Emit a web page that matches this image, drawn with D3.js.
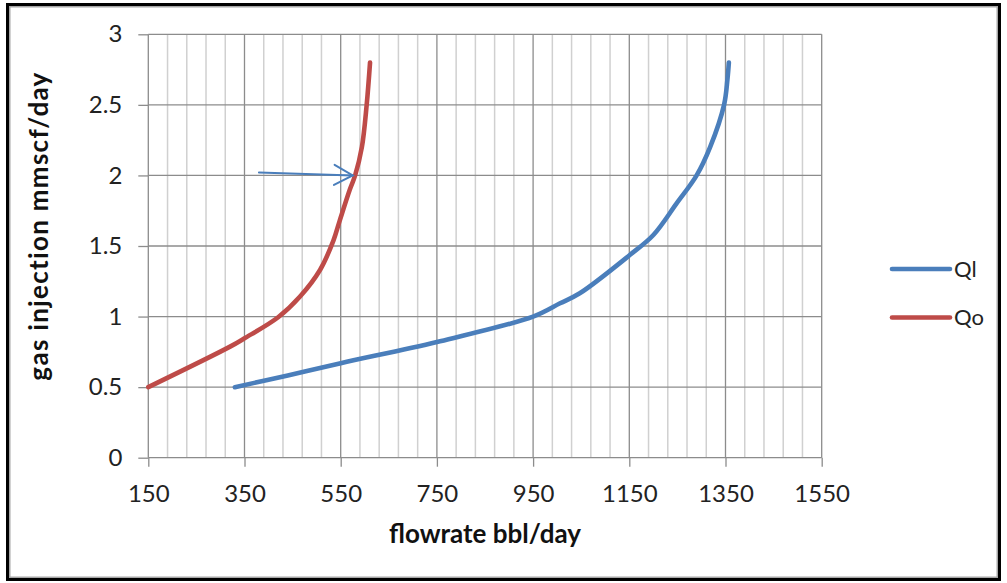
<!DOCTYPE html>
<html>
<head>
<meta charset="utf-8">
<script src="https://cdn.jsdelivr.net/npm/d3@7"></script>
<style>
  html, body { margin: 0; padding: 0; background: #fff; }
  svg { display: block; font-family: Lato, "Open Sans", sans-serif; }
</style>
</head>
<body>
<svg id="chart" width="1007" height="583"></svg>
<script>
// Gas-lift performance: gas injection rate vs. liquid / oil flowrate
const xTicks = [150, 350, 550, 750, 950, 1150, 1350, 1550];
const yTicks = [0, 0.5, 1, 1.5, 2, 2.5, 3];
const xMinorStep = 40;

const seriesNames = ["Ql", "Qo"];
const seriesColors = ["#4a7ebb", "#be4b48"];

// Ql: total liquid rate (bbl/day) against gas injection (mmscf/day)
const qlFlow = [330, 440, 550, 750, 950, 1006, 1047, 1151, 1200, 1248, 1290, 1318, 1347, 1354, 1357];
const qlGas  = [0.5, 0.583, 0.67, 0.82, 1.0, 1.094, 1.165, 1.436, 1.578, 1.80, 2.0, 2.2, 2.5, 2.68, 2.8];

// Qo: oil rate (bbl/day) against gas injection (mmscf/day)
const qoFlow = [150, 320, 350, 420, 465, 507, 535, 548, 569, 580, 594, 604, 611];
const qoGas  = [0.5, 0.787, 0.846, 0.995, 1.14, 1.33, 1.54, 1.68, 1.90, 2.0, 2.2, 2.5, 2.8];

// Annotation arrow pointing at the Qo curve at 2 mmscf/day
const arrowFrom = [380, 2.02];
const arrowTo = [575, 2.0];

const svg = d3.select("#chart");
const W = 1007, H = 583;

// outer frame
svg.append("rect").attr("x", 0).attr("y", 0).attr("width", W).attr("height", H).attr("fill", "#fff");
svg.append("rect").attr("x", 7.5).attr("y", 4.5).attr("width", 992).attr("height", 575)
  .attr("fill", "none").attr("stroke", "#000").attr("stroke-width", 3);
svg.append("rect").attr("x", 9.75).attr("y", 6.75).attr("width", 987.5).attr("height", 570.5)
  .attr("fill", "none").attr("stroke", "#a6a6a6").attr("stroke-width", 1.5);

const plot = { left: 148.3, right: 821.7, top: 34.3, bottom: 457.7 };

const x = d3.scaleLinear().domain([150, 1550]).range([plot.left, plot.right]);
const y = d3.scaleLinear().domain([0, 3]).range([plot.bottom, plot.top]);

const g = svg.append("g");

// minor vertical gridlines
const minor = d3.range(150 + xMinorStep, 1550, xMinorStep).filter(v => (v - 150) % 200 !== 0);
g.selectAll("line.minor").data(minor).join("line")
  .attr("class", "minor")
  .attr("x1", d => x(d)).attr("x2", d => x(d))
  .attr("y1", plot.top).attr("y2", plot.bottom)
  .attr("stroke", "#d0d0d0").attr("stroke-width", 1.5);

// major vertical gridlines
g.selectAll("line.vmajor").data(xTicks.slice(1)).join("line")
  .attr("class", "vmajor")
  .attr("x1", d => x(d)).attr("x2", d => x(d))
  .attr("y1", plot.top).attr("y2", plot.bottom)
  .attr("stroke", "#8c8c8c").attr("stroke-width", 1.3);

// horizontal gridlines
g.selectAll("line.h").data(yTicks.slice(1)).join("line")
  .attr("class", "h")
  .attr("x1", plot.left).attr("x2", plot.right)
  .attr("y1", d => y(d)).attr("y2", d => y(d))
  .attr("stroke", "#8c8c8c").attr("stroke-width", 1.3);

// axes
const xAxis = d3.axisBottom(x).tickValues(xTicks).tickSize(9).tickPadding(18).tickFormat(d3.format("d"));
const yAxis = d3.axisLeft(y).tickValues(yTicks).tickSize(10).tickPadding(16).tickFormat(d => String(d));

const gx = svg.append("g").attr("transform", `translate(0,${plot.bottom})`).call(xAxis);
const gy = svg.append("g").attr("transform", `translate(${plot.left},0)`).call(yAxis);

[gx, gy].forEach(a => {
  a.select(".domain").attr("stroke", "#8c8c8c").attr("stroke-width", 1.3);
  a.selectAll(".tick line").attr("stroke", "#8c8c8c").attr("stroke-width", 1.3);
  a.selectAll(".tick text").attr("fill", "#222").style("font-size", "24px")
    .style("font-family", "Lato, 'Open Sans', sans-serif");
});
gx.select(".domain").attr("d", `M${plot.left},0H${plot.right}`);
gy.select(".domain").attr("d", `M0,${plot.bottom}V${plot.top}`);

// axis titles
svg.append("text").attr("x", 485).attr("y", 543).attr("text-anchor", "middle")
  .style("font-size", "26px").style("font-weight", "bold").attr("fill", "#111")
  .text("flowrate bbl/day");
svg.append("text").attr("transform", "translate(48,226) rotate(-90)").attr("text-anchor", "middle")
  .style("font-size", "26px").style("font-weight", "bold").style("letter-spacing", "1.3px")
  .attr("fill", "#111")
  .text("gas injection mmscf/day");

// series lines
const line = d3.line().x(d => x(d[0])).y(d => y(d[1])).curve(d3.curveCatmullRom.alpha(0.5));
const series = [
  { name: seriesNames[0], color: seriesColors[0], pts: qlFlow.map((v, i) => [v, qlGas[i]]) },
  { name: seriesNames[1], color: seriesColors[1], pts: qoFlow.map((v, i) => [v, qoGas[i]]) }
];
svg.append("g").selectAll("path.series").data(series).join("path")
  .attr("class", "series")
  .attr("d", d => line(d.pts))
  .attr("fill", "none")
  .attr("stroke", d => d.color)
  .attr("stroke-width", 4.6)
  .attr("stroke-linecap", "round")
  .attr("stroke-linejoin", "round");

// annotation arrow
const ax1 = x(arrowFrom[0]), ay1 = y(arrowFrom[1]);
const ax2 = x(arrowTo[0]), ay2 = y(arrowTo[1]);
const ang = Math.atan2(ay2 - ay1, ax2 - ax1);
const headLen = 21, headAng = 0.5;
const arrow = svg.append("g").attr("stroke", "#4a7ebb").attr("stroke-width", 2).attr("fill", "none")
  .attr("stroke-linecap", "round");
arrow.append("line").attr("x1", ax1).attr("y1", ay1).attr("x2", ax2).attr("y2", ay2);
arrow.append("path").attr("d",
  `M${ax2 - headLen * Math.cos(ang - headAng)},${ay2 - headLen * Math.sin(ang - headAng)}` +
  `L${ax2},${ay2}` +
  `L${ax2 - headLen * Math.cos(ang + headAng)},${ay2 - headLen * Math.sin(ang + headAng)}`);

// legend
const legend = svg.append("g").selectAll("g").data(series).join("g")
  .attr("transform", (d, i) => `translate(892,${269 + i * 48.5})`);
legend.append("line").attr("x1", 0).attr("x2", 58).attr("y1", 0).attr("y2", 0)
  .attr("stroke", d => d.color).attr("stroke-width", 4.6).attr("stroke-linecap", "round");
legend.append("text").attr("x", 62).attr("y", 7.5)
  .style("font-size", "22px").attr("fill", "#222").text(d => d.name);
</script>
</body>
</html>
